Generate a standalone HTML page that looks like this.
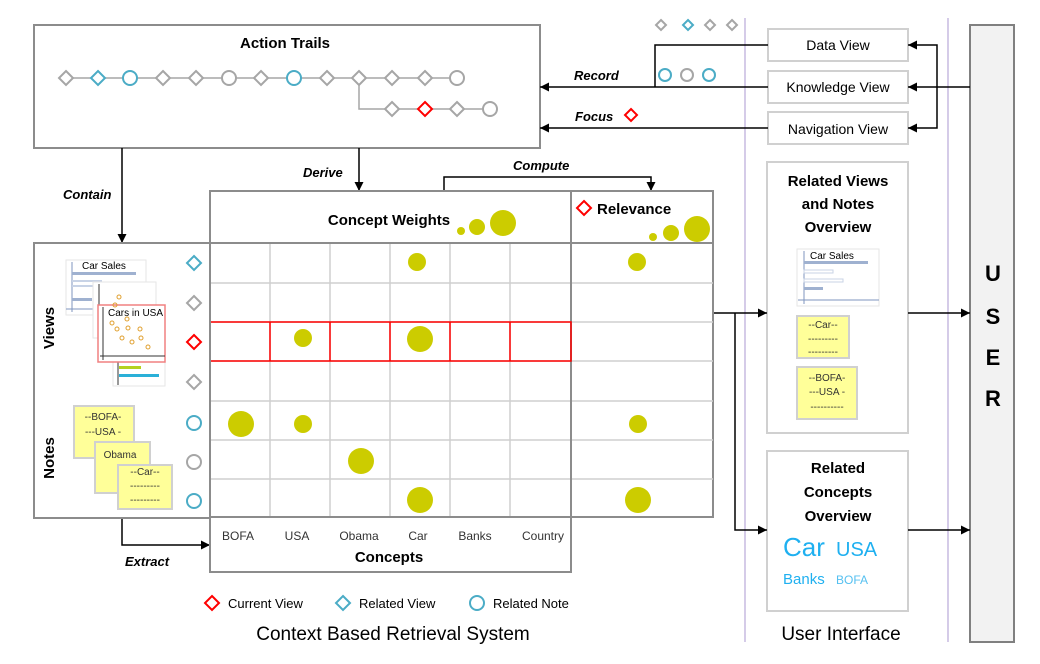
<!DOCTYPE html>
<html><head><meta charset="utf-8"><style>html,body{margin:0;padding:0;background:#fff}svg{display:block}text{font-family:"Liberation Sans",sans-serif}</style></head><body>
<svg width="1040" height="664" viewBox="0 0 1040 664" xmlns="http://www.w3.org/2000/svg">
<defs><marker id="a" viewBox="0 0 10 10" refX="10" refY="5" markerWidth="9" markerHeight="9" markerUnits="userSpaceOnUse" orient="auto"><path d="M0,0L10,5L0,10z" fill="#000"/></marker></defs>
<!-- purple lines -->
<line x1="745" y1="18" x2="745" y2="642" stroke="#b9a9d8" stroke-width="1.2"/>
<line x1="948" y1="18" x2="948" y2="642" stroke="#b9a9d8" stroke-width="1.2"/>
<!-- Action trails -->
<rect x="34" y="25" width="506" height="123" fill="#fff" stroke="#8c8c8c" stroke-width="2"/>
<text x="285" y="48" font-size="15" font-weight="bold" text-anchor="middle">Action Trails</text>
<g stroke="#a6a6a6" stroke-width="1.5" fill="none">
<line x1="66" y1="78" x2="457" y2="78"/><polyline points="359,78 359,109 490,109"/></g>
<g fill="#fff" stroke-width="2">
<path d="M66,71l7,7l-7,7l-7,-7z" stroke="#a6a6a6"/>
<path d="M98,71l7,7l-7,7l-7,-7z" stroke="#4bacc6"/>
<circle cx="130" cy="78" r="7" stroke="#4bacc6"/>
<path d="M163,71l7,7l-7,7l-7,-7z" stroke="#a6a6a6"/>
<path d="M196,71l7,7l-7,7l-7,-7z" stroke="#a6a6a6"/>
<circle cx="229" cy="78" r="7" stroke="#a6a6a6"/>
<path d="M261,71l7,7l-7,7l-7,-7z" stroke="#a6a6a6"/>
<circle cx="294" cy="78" r="7" stroke="#4bacc6"/>
<path d="M327,71l7,7l-7,7l-7,-7z" stroke="#a6a6a6"/>
<path d="M359,71l7,7l-7,7l-7,-7z" stroke="#a6a6a6"/>
<path d="M392,71l7,7l-7,7l-7,-7z" stroke="#a6a6a6"/>
<path d="M425,71l7,7l-7,7l-7,-7z" stroke="#a6a6a6"/>
<circle cx="457" cy="78" r="7" stroke="#a6a6a6"/>
<path d="M392,102l7,7l-7,7l-7,-7z" stroke="#a6a6a6"/>
<path d="M425,102l7,7l-7,7l-7,-7z" stroke="#ff0000"/>
<path d="M457,102l7,7l-7,7l-7,-7z" stroke="#a6a6a6"/>
<circle cx="490" cy="109" r="7" stroke="#a6a6a6"/>
</g>
<!-- view boxes -->
<g fill="#fff" stroke="#d0d0d0" stroke-width="2">
<rect x="768" y="29" width="140" height="32"/><rect x="768" y="71" width="140" height="32"/><rect x="768" y="112" width="140" height="32"/>
<rect x="767" y="162" width="141" height="271"/><rect x="767" y="451" width="141" height="160"/></g>
<g font-size="14" text-anchor="middle"><text x="838" y="50">Data View</text><text x="838" y="92">Knowledge View</text><text x="838" y="134">Navigation View</text></g>
<!-- USER -->
<rect x="970" y="25" width="44" height="617" fill="#f2f2f2" stroke="#808080" stroke-width="2"/>
<g font-size="22" font-weight="bold" text-anchor="middle"><text x="993" y="281">U</text><text x="993" y="324">S</text><text x="993" y="365">E</text><text x="993" y="406">R</text></g>
<!-- connectors top right -->
<g stroke="#000" stroke-width="1.5" fill="none">
<line x1="970" y1="87" x2="908" y2="87" marker-end="url(#a)"/>
<polyline points="937,87 937,45 908,45" marker-end="url(#a)"/>
<polyline points="937,87 937,128 908,128" marker-end="url(#a)"/>
<line x1="768" y1="87" x2="540" y2="87" marker-end="url(#a)"/>
<polyline points="768,45 655,45 655,87"/>
<line x1="768" y1="128" x2="540" y2="128" marker-end="url(#a)"/>
<line x1="359" y1="148" x2="359" y2="191" marker-end="url(#a)"/>
<line x1="122" y1="148" x2="122" y2="243" marker-end="url(#a)"/>
<polyline points="444,191 444,177 651,177 651,191" marker-end="url(#a)"/>
<polyline points="122,518 122,545 210,545" marker-end="url(#a)"/>
<line x1="713" y1="313" x2="767" y2="313" marker-end="url(#a)"/>
<polyline points="735,313 735,530 767,530" marker-end="url(#a)"/>
<line x1="908" y1="313" x2="970" y2="313" marker-end="url(#a)"/>
<line x1="908" y1="530" x2="970" y2="530" marker-end="url(#a)"/>
</g>
<g fill="none" stroke-width="2"><path d="M661,20l5,5l-5,5l-5,-5z" stroke="#a6a6a6"/><path d="M688,20l5,5l-5,5l-5,-5z" stroke="#4bacc6"/><path d="M710,20l5,5l-5,5l-5,-5z" stroke="#a6a6a6"/><path d="M732,20l5,5l-5,5l-5,-5z" stroke="#a6a6a6"/>
<circle cx="665" cy="75" r="6" stroke="#4bacc6"/><circle cx="687" cy="75" r="6" stroke="#a6a6a6"/><circle cx="709" cy="75" r="6" stroke="#4bacc6"/>
<path d="M631,109l6,6l-6,6l-6,-6z" stroke="#ff0000"/></g>
<g font-size="13" font-weight="bold" font-style="italic"><text x="574" y="80">Record</text><text x="575" y="121">Focus</text><text x="303" y="177">Derive</text><text x="63" y="199">Contain</text><text x="513" y="170">Compute</text><text x="125" y="566">Extract</text></g>
<!-- grid -->
<rect x="210" y="191" width="503" height="326" fill="#fff" stroke="#8c8c8c" stroke-width="2"/>
<g stroke="#cfcfcf" stroke-width="1.5">
<line x1="270" y1="243" x2="270" y2="517"/><line x1="330" y1="243" x2="330" y2="517"/><line x1="390" y1="243" x2="390" y2="517"/><line x1="450" y1="243" x2="450" y2="517"/><line x1="510" y1="243" x2="510" y2="517"/>
<line x1="210" y1="283" x2="713" y2="283"/><line x1="210" y1="322" x2="713" y2="322"/><line x1="210" y1="361" x2="713" y2="361"/><line x1="210" y1="401" x2="713" y2="401"/><line x1="210" y1="440" x2="713" y2="440"/><line x1="210" y1="479" x2="713" y2="479"/></g>
<line x1="210" y1="243" x2="713" y2="243" stroke="#8c8c8c" stroke-width="2"/>
<line x1="571" y1="191" x2="571" y2="517" stroke="#8c8c8c" stroke-width="2"/>
<g fill="none" stroke="#ff0000" stroke-width="1.5"><rect x="210" y="322" width="361" height="39"/><line x1="270" y1="322" x2="270" y2="361"/><line x1="330" y1="322" x2="330" y2="361"/><line x1="390" y1="322" x2="390" y2="361"/><line x1="450" y1="322" x2="450" y2="361"/><line x1="510" y1="322" x2="510" y2="361"/></g>
<text x="389" y="225" font-size="15" font-weight="bold" text-anchor="middle">Concept Weights</text>
<path d="M584,201l7,7l-7,7l-7,-7z" fill="none" stroke="#ff0000" stroke-width="2"/>
<text x="597" y="214" font-size="15" font-weight="bold">Relevance</text>
<g fill="#cccc00"><circle cx="461" cy="231" r="4"/><circle cx="477" cy="227" r="8"/><circle cx="503" cy="223" r="13"/><circle cx="653" cy="237" r="4"/><circle cx="671" cy="233" r="8"/><circle cx="697" cy="229" r="13"/>
<circle cx="417" cy="262" r="9"/><circle cx="637" cy="262" r="9"/><circle cx="303" cy="338" r="9"/><circle cx="420" cy="339" r="13"/><circle cx="241" cy="424" r="13"/><circle cx="303" cy="424" r="9"/><circle cx="638" cy="424" r="9"/><circle cx="361" cy="461" r="13"/><circle cx="420" cy="500" r="13"/><circle cx="638" cy="500" r="13"/></g>
<!-- concepts box -->
<rect x="210" y="517" width="361" height="55" fill="#fff" stroke="#8c8c8c" stroke-width="2"/>
<g font-size="12" fill="#333" text-anchor="middle"><text x="238" y="540">BOFA</text><text x="297" y="540">USA</text><text x="359" y="540">Obama</text><text x="418" y="540">Car</text><text x="475" y="540">Banks</text><text x="543" y="540">Country</text></g>
<text x="389" y="562" font-size="15" font-weight="bold" text-anchor="middle">Concepts</text>
<!-- left panel -->
<rect x="34" y="243" width="176" height="275" fill="#fff" stroke="#8c8c8c" stroke-width="2"/>
<text transform="translate(54,328) rotate(-90)" font-size="15" font-weight="bold" text-anchor="middle">Views</text>
<text transform="translate(54,458) rotate(-90)" font-size="15" font-weight="bold" text-anchor="middle">Notes</text>
<g fill="none" stroke-width="2"><path d="M194,256l7,7l-7,7l-7,-7z" stroke="#4bacc6"/><path d="M194,296l7,7l-7,7l-7,-7z" stroke="#a6a6a6"/><path d="M194,335l7,7l-7,7l-7,-7z" stroke="#ff0000"/><path d="M194,375l7,7l-7,7l-7,-7z" stroke="#a6a6a6"/>
<circle cx="194" cy="423" r="7" stroke="#4bacc6"/><circle cx="194" cy="462" r="7" stroke="#a6a6a6"/><circle cx="194" cy="501" r="7" stroke="#4bacc6"/></g>
<!-- thumbnails -->
<rect x="66" y="260" width="80" height="55" fill="#fff" stroke="#e6e6e6"/>
<line x1="72" y1="262" x2="72" y2="312" stroke="#7f96bf"/><rect x="72" y="272" width="64" height="3" fill="#9fb1d0"/><rect x="72" y="280" width="30" height="2" fill="#c8d3e6"/><rect x="72" y="285" width="30" height="2" fill="#c8d3e6"/><rect x="72" y="298" width="20" height="3" fill="#9fb1d0"/><line x1="66" y1="309" x2="146" y2="309" stroke="#7f96bf"/>
<text x="82" y="269" font-size="10">Car Sales</text>
<rect x="93" y="282" width="63" height="56" fill="#fff" stroke="#e6e6e6"/><line x1="99" y1="284" x2="99" y2="336" stroke="#333"/>
<rect x="113" y="340" width="52" height="46" fill="#fff" stroke="#e6e6e6"/><rect x="119" y="366" width="22" height="3" fill="#b5d11f"/><rect x="119" y="374" width="40" height="3" fill="#2ab0d8"/><line x1="118" y1="360" x2="118" y2="385" stroke="#333"/>
<rect x="98" y="305" width="67" height="57" fill="#fff" stroke="#f08080" stroke-width="1.5"/><line x1="103" y1="307" x2="103" y2="360" stroke="#333"/><line x1="100" y1="356" x2="165" y2="356" stroke="#333"/>
<text x="108" y="316" font-size="10">Cars in USA</text>
<g fill="none" stroke="#e0a030" stroke-width="1"><circle cx="112" cy="323" r="2"/><circle cx="127" cy="319" r="2"/><circle cx="117" cy="329" r="2"/><circle cx="128" cy="328" r="2"/><circle cx="140" cy="329" r="2"/><circle cx="122" cy="338" r="2"/><circle cx="132" cy="342" r="2"/><circle cx="141" cy="338" r="2"/><circle cx="148" cy="347" r="2"/><circle cx="115" cy="305" r="2"/><circle cx="119" cy="297" r="2"/></g>
<g stroke="#d0d0d0" stroke-width="2" fill="#ffff99"><rect x="74" y="406" width="60" height="52"/><rect x="95" y="442" width="55" height="51"/><rect x="118" y="465" width="54" height="44"/>
<rect x="797" y="316" width="52" height="42"/><rect x="797" y="367" width="60" height="52"/></g>
<g font-size="10" fill="#333" text-anchor="middle"><text x="103" y="420">--BOFA-</text><text x="103" y="435">---USA -</text><text x="120" y="458">Obama</text><text x="145" y="475">--Car--</text><text x="145" y="489">---------</text><text x="145" y="503">---------</text>
<text x="823" y="328">--Car--</text><text x="823" y="342">---------</text><text x="823" y="355">---------</text><text x="827" y="381">--BOFA-</text><text x="827" y="395">---USA -</text><text x="827" y="410">----------</text></g>
<!-- related views -->
<g font-size="15" font-weight="bold" text-anchor="middle"><text x="838" y="186">Related Views</text><text x="838" y="209">and Notes</text><text x="838" y="232">Overview</text>
<text x="838" y="473">Related</text><text x="838" y="497">Concepts</text><text x="838" y="521">Overview</text></g>
<rect x="797" y="249" width="82" height="57" fill="#fff" stroke="#e6e6e6"/><line x1="804" y1="251" x2="804" y2="304" stroke="#7f96bf"/><line x1="798" y1="300" x2="879" y2="300" stroke="#7f96bf"/><rect x="804" y="261" width="64" height="3" fill="#9fb1d0"/><rect x="804" y="270" width="29" height="3" fill="none" stroke="#c8d3e6"/><rect x="804" y="279" width="39" height="3" fill="none" stroke="#c8d3e6"/><rect x="804" y="287" width="19" height="3" fill="#9fb1d0"/>
<text x="810" y="259" font-size="10">Car Sales</text>
<text x="783" y="556" font-size="26" fill="#1fb0f0">Car</text><text x="836" y="556" font-size="20" fill="#1fb0f0">USA</text>
<text x="783" y="584" font-size="15" fill="#1fb0f0">Banks</text><text x="836" y="584" font-size="12" fill="#55c0f0">BOFA</text>
<!-- legend -->
<g fill="none" stroke-width="2"><path d="M212,596l7,7l-7,7l-7,-7z" stroke="#ff0000"/><path d="M343,596l7,7l-7,7l-7,-7z" stroke="#4bacc6"/><circle cx="477" cy="603" r="7" stroke="#4bacc6"/></g>
<g font-size="13"><text x="228" y="608">Current View</text><text x="359" y="608">Related View</text><text x="493" y="608">Related Note</text></g>
<text x="393" y="640" font-size="19" text-anchor="middle">Context Based Retrieval System</text>
<text x="841" y="640" font-size="19" text-anchor="middle">User Interface</text>
</svg>
</body></html>
